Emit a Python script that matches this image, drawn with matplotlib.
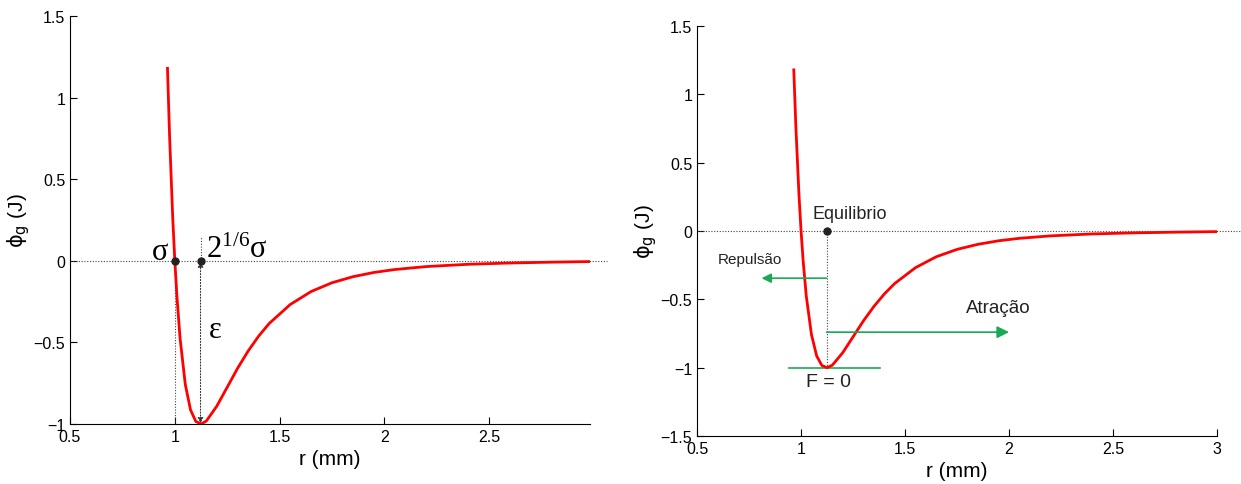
import matplotlib
matplotlib.use("Agg")
import matplotlib.pyplot as plt

plt.rcParams['font.family'] = ['Liberation Sans', 'DejaVu Sans']
plt.rcParams['mathtext.fontset'] = 'custom'
plt.rcParams['mathtext.rm'] = 'Liberation Serif'

# curva do potencial
r = [0.965, 0.975, 0.99, 1.0, 1.01, 1.025, 1.05, 1.075, 1.1, 1.125, 1.15,
     1.2, 1.25, 1.3, 1.35, 1.4, 1.45, 1.55, 1.65, 1.75, 1.85, 1.95, 2.05,
     2.2, 2.4, 2.6, 2.8, 3.0]
phi = [1.18, 0.764, 0.264, 0.0, -0.218, -0.475, -0.758, -0.914, -0.984, -1.0, -0.982,
       -0.891, -0.774, -0.657, -0.552, -0.461, -0.384, -0.268, -0.188, -0.134, -0.097, -0.071, -0.053,
       -0.035, -0.021, -0.013, -0.008, -0.004]

sigma = 1.0
r_eq = 1.1225
eps = -1.0

xticks_esq = [0.5, 1, 1.5, 2, 2.5]
yticks_esq = [-1, -0.5, 0, 0.5, 1, 1.5]
xticks_dir = [0.5, 1, 1.5, 2, 2.5, 3]
yticks_dir = [-1.5, -1, -0.5, 0, 0.5, 1, 1.5]

verde = '#1aaa55'
pontilhado = dict(color='#444444', lw=0.8, ls=(0, (1, 1.5)))

fig = plt.figure(figsize=(12.41, 4.85), dpi=100)
ax1 = fig.add_axes([0.0564, 0.1237, 0.419, 0.841])
ax2 = fig.add_axes([0.5617, 0.099, 0.419, 0.845])


def estilo(ax, xt, yt):
    for s in ['top', 'right']:
        ax.spines[s].set_visible(False)
    ax.tick_params(direction='in', length=5, labelsize=11.5, width=0.8)
    ax.set_xticks(xt)
    ax.set_yticks(yt)
    ax.set_xticklabels([f'{v:g}' for v in xt])
    ax.set_yticklabels([f'{v:g}'.replace('-', '\u2212') for v in yt])
    ax.set_xlabel('r (mm)', fontsize=15, labelpad=4)
    ax.set_ylabel(r'$\mathrm{\phi_g}$ (J)', fontsize=15, labelpad=1)
    ax.yaxis.label.set_math_fontfamily('dejavusans')


# ---- grafico da esquerda ----
ax1.plot(r, phi, color='red', lw=2, zorder=3)
ax1.set_xlim(0.5, 2.98)
ax1.set_ylim(-1, 1.5)
estilo(ax1, xticks_esq, yticks_esq)
ax1.plot([0.5, 3.06], [0, 0], clip_on=False, **pontilhado)
ax1.plot([sigma, sigma], [eps, 0], **pontilhado)
ax1.plot([r_eq, r_eq], [0, 0.15], **pontilhado)
ax1.annotate('', xy=(r_eq, -0.005), xytext=(r_eq, eps + 0.005),
             arrowprops=dict(arrowstyle='<|-|>', color='#333333', lw=0.8, ls=':',
                             mutation_scale=8, shrinkA=0, shrinkB=0))
ax1.plot([sigma, r_eq], [0, 0], 'o', color='#222222', ms=5, zorder=4)
ax1.text(0.93, 0.06, 'σ', family='Liberation Serif', fontsize=22, ha='center', va='center')
ax1.text(1.15, 0.07, r'$\mathrm{2^{1/6}σ}$', fontsize=22, ha='left', va='center')
ax1.text(1.195, -0.42, 'ε', family='Liberation Serif', fontsize=22, ha='center', va='center')

# ---- grafico da direita ----
ax2.plot(r, phi, color='red', lw=2, zorder=3)
ax2.set_xlim(0.5, 3)
ax2.set_ylim(-1.5, 1.5)
estilo(ax2, xticks_dir, yticks_dir)
ax2.plot([0.5, 3.12], [0, 0], clip_on=False, **pontilhado)
ax2.plot([r_eq, r_eq], [eps, 0], **pontilhado)
ax2.plot([r_eq], [0], 'o', color='#222222', ms=5, zorder=4)
ax2.plot([0.94, 1.38], [eps, eps], color=verde, lw=1.2)
ax2.annotate('', xy=(0.81, -0.345), xytext=(r_eq, -0.345),
             arrowprops=dict(arrowstyle='-|>', color=verde, lw=1.2,
                             mutation_scale=14, shrinkA=0, shrinkB=0))
ax2.annotate('', xy=(2.0, -0.74), xytext=(r_eq, -0.74),
             arrowprops=dict(arrowstyle='-|>', color=verde, lw=1.2,
                             mutation_scale=18, shrinkA=0, shrinkB=0))
ax2.text(1.235, 0.13, 'Equilibrio', fontsize=13, ha='center', va='center', color='#222222')
ax2.text(0.755, -0.205, 'Repulsão', fontsize=11, ha='center', va='center', color='#222222')
ax2.text(1.95, -0.56, 'Atração', fontsize=13.5, ha='center', va='center', color='#222222')
ax2.text(1.13, -1.1, 'F = 0', fontsize=14, ha='center', va='center', color='#222222')

fig.savefig('out.png', dpi=100)
